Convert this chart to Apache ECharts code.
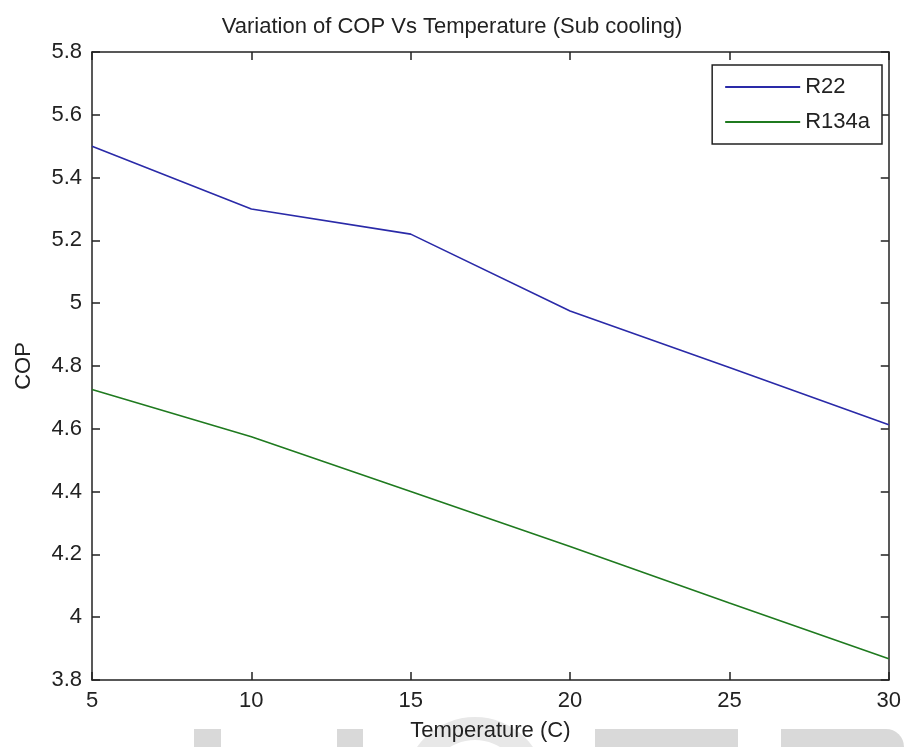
<!DOCTYPE html>
<html>
<head>
<meta charset="utf-8">
<title>Variation of COP Vs Temperature</title>
<script src="https://cdn.jsdelivr.net/npm/echarts@6/dist/echarts.min.js"></script>
<style>
  html, body { margin: 0; padding: 0; background: #fff; }
  #wrap { width: 904px; height: 747px; }
</style>
</head>
<body>
<div id="wrap"></div>
<script>
// data
var temperature = [5, 10, 15, 20, 25, 30];
var copR22 = [5.50, 5.30, 5.22, 4.975, 4.795, 4.613];
var copR134a = [4.725, 4.575, 4.40, 4.225, 4.045, 3.868];
var seriesNames = ['R22', 'R134a'];

var font = 'Liberation Sans, Arial, sans-serif';
var ink = '#222';

function pairs(xs, ys) {
  return xs.map(function (x, i) { return [x, ys[i]]; });
}

var axisLine = { show: true, onZero: false, lineStyle: { color: ink, width: 1.5 } };
var axisTick = { show: true, inside: true, length: 8, lineStyle: { color: ink, width: 1.5 } };

var option = {
  backgroundColor: '#fff',
  animation: false,
  title: {
    text: 'Variation of COP Vs Temperature (Sub cooling)',
    left: 'center',
    top: 11,
    textStyle: { fontFamily: font, fontSize: 22, fontWeight: 'normal', color: ink }
  },
  grid: { left: 92, right: 11, top: 52, bottom: 64, containLabel: false },
  legend: {
    orient: 'vertical',
    right: 22,
    top: 65,
    padding: [11, 12, 11, 13],
    icon: 'rect',
    itemWidth: 75,
    itemHeight: 2,
    itemGap: 13,
    backgroundColor: '#fff',
    borderColor: ink,
    borderWidth: 1.5,
    borderRadius: 0,
    textStyle: { fontFamily: font, fontSize: 22, color: ink, padding: [0, 0, 0, 0] },
    data: seriesNames
  },
  xAxis: [{
    type: 'value',
    min: 5, max: 30, interval: 5,
    name: 'Temperature (C)',
    nameLocation: 'middle',
    nameGap: 40,
    nameTextStyle: { fontFamily: font, fontSize: 22, color: ink },
    axisLine: axisLine,
    axisTick: axisTick,
    splitLine: { show: false },
    axisLabel: { fontFamily: font, fontSize: 22, color: ink, margin: 10 }
  }, {
    type: 'value',
    position: 'top',
    min: 5, max: 30, interval: 5,
    axisLine: axisLine,
    axisTick: axisTick,
    splitLine: { show: false },
    axisLabel: { show: false }
  }],
  yAxis: [{
    type: 'value',
    min: 3.8, max: 5.8, interval: 0.2,
    name: 'COP',
    nameLocation: 'middle',
    nameGap: 57,
    nameTextStyle: { fontFamily: font, fontSize: 22, color: ink },
    axisLine: axisLine,
    axisTick: axisTick,
    splitLine: { show: false },
    axisLabel: {
      fontFamily: font, fontSize: 22, color: ink, margin: 10,
      formatter: function (v) { return String(Math.round(v * 10) / 10); }
    }
  }, {
    type: 'value',
    position: 'right',
    min: 3.8, max: 5.8, interval: 0.2,
    axisLine: axisLine,
    axisTick: axisTick,
    splitLine: { show: false },
    axisLabel: { show: false }
  }],
  series: [{
    name: seriesNames[0],
    type: 'line',
    symbol: 'none',
    color: '#2a2aa8',
    lineStyle: { width: 1.6 },
    data: pairs(temperature, copR22)
  }, {
    name: seriesNames[1],
    type: 'line',
    symbol: 'none',
    color: '#1f7a1f',
    lineStyle: { width: 1.6 },
    data: pairs(temperature, copR134a)
  }],
  // faint watermark shapes along the bottom edge
  graphic: [
    { type: 'ring', z: -1, shape: { cx: 475, cy: 788, r: 71, r0: 48 }, style: { fill: '#e8e8e8' } },
    { type: 'rect', z: -1, shape: { x: 194, y: 729, width: 27, height: 18 }, style: { fill: '#d9d9d9' } },
    { type: 'rect', z: -1, shape: { x: 337, y: 729, width: 26, height: 18 }, style: { fill: '#d9d9d9' } },
    { type: 'rect', z: -1, shape: { x: 595, y: 729, width: 143, height: 18 }, style: { fill: '#d9d9d9' } },
    { type: 'rect', z: -1, shape: { x: 781, y: 729, width: 123, height: 18, r: [0, 24, 0, 0] }, style: { fill: '#d9d9d9' } }
  ]
};

var myChart = echarts.init(document.getElementById('wrap'));
myChart.setOption(option);
</script>
</body>
</html>
